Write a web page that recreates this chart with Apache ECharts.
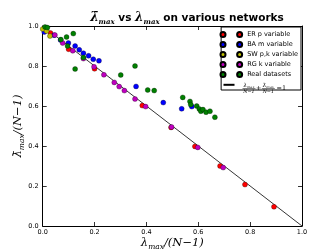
<!DOCTYPE html>
<html><head><meta charset="utf-8">
<script src="https://cdn.jsdelivr.net/npm/echarts@6/dist/echarts.min.js"></script>
<style>html,body{margin:0;padding:0;background:#fff}#c{width:336px;height:252px}</style>
</head><body><div id="c"></div>
<script>
// ER p variable
const erX = [0.03, 0.10, 0.20, 0.384, 0.495, 0.587, 0.684, 0.78, 0.892];
const erY = [0.965, 0.884, 0.786, 0.602, 0.493, 0.398, 0.30, 0.207, 0.096];
// BA m variable
const baX = [0.006, 0.044, 0.069, 0.099, 0.125, 0.141, 0.157, 0.177, 0.195, 0.217, 0.36, 0.465, 0.536, 0.575];
const baY = [0.97, 0.954, 0.93, 0.915, 0.90, 0.881, 0.864, 0.851, 0.834, 0.826, 0.698, 0.617, 0.586, 0.597];
// SW p,k variable
const swX = [0.0, 0.028, 0.015];
const swY = [0.985, 0.95, 0.975];
// RG k variable
const rgX = [0.047, 0.077, 0.116, 0.157, 0.198, 0.236, 0.276, 0.295, 0.315, 0.356, 0.397, 0.497, 0.598, 0.696];
const rgY = [0.955, 0.915, 0.876, 0.837, 0.796, 0.756, 0.718, 0.697, 0.677, 0.635, 0.597, 0.495, 0.393, 0.292];
// Real datasets
const realX = [0.009, 0.018, 0.07, 0.092, 0.118, 0.096, 0.157, 0.125, 0.301, 0.356, 0.405, 0.43, 0.54, 0.568, 0.571, 0.594, 0.604, 0.61, 0.618, 0.63, 0.645, 0.664];
const realY = [0.995, 0.992, 0.932, 0.945, 0.962, 0.90, 0.842, 0.785, 0.755, 0.80, 0.68, 0.677, 0.643, 0.623, 0.607, 0.60, 0.585, 0.574, 0.582, 0.569, 0.574, 0.544];
// reference line x + y = 1
const lineX = [0, 1];
const lineY = [1, 0];
const tickValues = [0.0, 0.2, 0.4, 0.6, 0.8, 1.0];

const names = ['ER p variable', 'BA m variable', 'SW p,k variable', 'RG k variable', 'Real datasets'];
const lineName = 'λmax/(N−1)+λ̄max/(N−1)=1';
const zip = (xs, ys) => xs.map((x, i) => [x, ys[i]]);

const chart = echarts.init(document.getElementById('c'), null, {renderer: 'canvas'});
const sans = 'DejaVu Sans';
const serif = 'DejaVu Serif';
const axisBase = {
  type: 'value', min: 0, max: 1, interval: 0.2,
  splitLine: {show: false},
  axisLine: {show: true, onZero: false, lineStyle: {color: '#000', width: 1}},
  axisTick: {show: true, inside: true, length: 4, lineStyle: {color: '#000', width: 0.8}},
};
const mk = (name, xs, ys, color) => ({
  name, type: 'scatter', data: zip(xs, ys), symbolSize: 5,
  itemStyle: {color, borderColor: '#000', borderWidth: 0.3, opacity: 1},
  emphasis: {disabled: true}, xAxisIndex: 0, yAxisIndex: 0
});
const fracStyle = {
  l: {fontFamily: serif, fontStyle: 'italic', fontSize: 5.5, color: '#000'},
  s: {fontFamily: serif, fontStyle: 'italic', fontSize: 3.5, color: '#000', verticalAlign: 'bottom'}
};
const fraction = (cx, num) => [
  {type: 'text', z: 50, x: cx, y: 85.6, style: {text: num, rich: fracStyle, align: 'center', verticalAlign: 'middle'}},
  {type: 'rect', z: 50, shape: {x: cx - 6.5, y: 88, width: 13, height: 0.5}, style: {fill: '#000'}},
  {type: 'text', z: 50, x: cx, y: 91.3, style: {text: 'N−1', fontFamily: serif, fontStyle: 'italic', fontSize: 4.8, fill: '#000', align: 'center', verticalAlign: 'middle'}}
];
const legendCommon = {
  orient: 'vertical', top: 27,
  itemGap: 3, itemWidth: 5, itemHeight: 5, borderRadius: 0,
  selectedMode: false,
  textStyle: {fontFamily: sans, fontSize: 6.5, color: '#000',
    rich: {f: {width: 46, height: 12, fontSize: 5}}},
  formatter: n => n === lineName ? '{f|}' : n
};
chart.setOption({
  animation: false,
  backgroundColor: '#fff',
  title: {
    text: '{m|λ̄}{s|max}{t| vs }{m|λ}{s|max}{t| on various networks}',
    left: 182, textAlign: 'center', top: 7,
    textStyle: {
      rich: {
        m: {fontFamily: serif, fontStyle: 'italic', fontSize: 12, color: '#000', verticalAlign: 'bottom'},
        s: {fontFamily: serif, fontStyle: 'italic', fontSize: 7, color: '#000', verticalAlign: 'bottom', padding: [0, 0, -2, 0]},
        t: {fontFamily: sans, fontSize: 10.5, color: '#000', verticalAlign: 'bottom'}
      }
    }
  },
  grid: {left: 42.7, right: 34, top: 26, bottom: 26, containLabel: false, outerBoundsMode: 'none'},
  legend: [
    Object.assign({}, legendCommon, {
      right: 35, z: 4,
      backgroundColor: '#fff', borderColor: '#000', borderWidth: 1,
      padding: [4, 3, 4, 15], itemWidth: 5,
      data: [...names, {name: lineName, lineStyle: {opacity: 0}, itemStyle: {opacity: 0}}]
    }),
    Object.assign({}, legendCommon, {
      left: 219.5, z: 6, padding: [4, 0, 4, 0],
      data: names.map(n => ({name: n, textStyle: {color: 'rgba(0,0,0,0)'}}))
    }),
    Object.assign({}, legendCommon, {
      left: 222.5, top: 82.3, z: 6, padding: 0, itemWidth: 11,
      formatter: () => '{f|}',
      textStyle: {fontSize: 5, color: 'rgba(0,0,0,0)', rich: {f: {width: 1, height: 12, fontSize: 5}}},
      data: [{name: lineName, itemStyle: {opacity: 0}}]
    })
  ],
  graphic: [
    ...fraction(249, '{l|λ}{s|max}'),
    {type: 'text', z: 50, x: 258.7, y: 88.3, style: {text: '+', fontFamily: serif, fontSize: 6.5, fill: '#000', align: 'center', verticalAlign: 'middle'}},
    ...fraction(268.3, '{l|λ̄}{s|max}'),
    {type: 'text', z: 50, x: 276.5, y: 88.5, style: {text: '=1', fontFamily: serif, fontSize: 6.5, fill: '#000', align: 'left', verticalAlign: 'middle'}}
  ],
  xAxis: [
    Object.assign({}, axisBase, {
      position: 'bottom',
      axisLabel: {fontFamily: sans, fontSize: 6.5, color: '#000', margin: 3,
        formatter: v => tickValues.find(t => Math.abs(t - v) < 1e-9).toFixed(1)},
      name: '{m|λ}{s|max}{m|/(N−1)}', nameLocation: 'middle', nameGap: 11, nameMoveOverlap: false,
      nameTextStyle: {rich: {
        m: {fontFamily: serif, fontStyle: 'italic', fontSize: 11.5, color: '#000', verticalAlign: 'bottom'},
        s: {fontFamily: serif, fontStyle: 'italic', fontSize: 7.5, color: '#000', verticalAlign: 'bottom', padding: [0, 0, -2, 0]}
      }}
    }),
    Object.assign({}, axisBase, {position: 'top', axisLabel: {show: false}})
  ],
  yAxis: [
    Object.assign({}, axisBase, {
      position: 'left',
      axisLabel: {fontFamily: sans, fontSize: 6.5, color: '#000', margin: 4,
        formatter: v => tickValues.find(t => Math.abs(t - v) < 1e-9).toFixed(1)},
      name: '{m|λ̄}{s|max}{m|/(N−1)}', nameLocation: 'middle', nameGap: 19, nameRotate: 90, nameMoveOverlap: false,
      nameTextStyle: {rich: {
        m: {fontFamily: serif, fontStyle: 'italic', fontSize: 11.5, color: '#000', verticalAlign: 'bottom'},
        s: {fontFamily: serif, fontStyle: 'italic', fontSize: 7.5, color: '#000', verticalAlign: 'bottom', padding: [0, 0, -2, 0]}
      }}
    }),
    Object.assign({}, axisBase, {position: 'right', axisLabel: {show: false}})
  ],
  series: [
    mk(names[0], erX, erY, '#ff0000'),
    mk(names[1], baX, baY, '#0000ff'),
    mk(names[2], swX, swY, '#bfbf00'),
    mk(names[3], rgX, rgY, '#bf00bf'),
    mk(names[4], realX, realY, '#008000'),
    {name: lineName, type: 'line', data: zip(lineX, lineY), symbol: 'none', showSymbol: false,
     lineStyle: {color: '#000', width: 0.8}, itemStyle: {color: '#000'}, z: 1,
     emphasis: {disabled: true}, xAxisIndex: 0, yAxisIndex: 0}
  ]
});
</script></body></html>
